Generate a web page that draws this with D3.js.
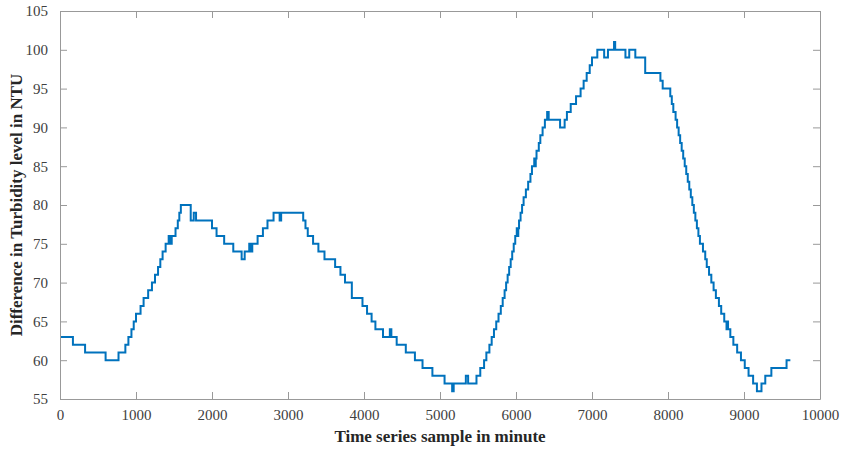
<!DOCTYPE html>
<html>
<head>
  <meta charset="utf-8">
  <title>Turbidity difference</title>
  <style>
    body { margin: 0; background: #fff; }
    .tick text { font: 15px "Liberation Serif", "Times New Roman", serif; fill: #404040; }
    .tick line { stroke: #999; }
    .domain { stroke: #999; }
    .label { font: bold 17px "Liberation Serif", "Times New Roman", serif; fill: #262626; }
    .line { fill: none; stroke: #0072BD; stroke-width: 2px; }
  </style>
  <script src="https://d3js.org/d3.v7.min.js"></script>
</head>
<body>
  <script>
    // step breakpoints: sample (minute) where the level changes, and the new level
    var samples = [
      0, 170, 330, 600, 770, 860, 900, 940, 970, 1000, 1060, 1100, 1160, 1210, 1250, 1290, 1320, 1350, 1390,
      1430, 1450, 1470, 1520, 1550, 1570, 1590, 1720, 1760, 1790, 2000, 2060, 2160, 2280, 2390, 2430, 2490,
      2510, 2530, 2600, 2670, 2730, 2810, 2890, 2910, 3200, 3230, 3260, 3330, 3400, 3480, 3620, 3690, 3750,
      3840, 3980, 4040, 4100, 4150, 4250, 4340, 4360, 4430, 4550, 4670, 4770, 4900, 5060, 5160, 5180, 5340,
      5370, 5480, 5530, 5580, 5610, 5650, 5680, 5710, 5740, 5770, 5800, 5825, 5850, 5870, 5890, 5910, 5930,
      5950, 5970, 5990, 6010, 6020, 6030, 6040, 6060, 6080, 6100, 6130, 6160, 6190, 6210, 6240, 6250, 6260,
      6270, 6300, 6320, 6350, 6380, 6410, 6430, 6580, 6640, 6670, 6720, 6790, 6850, 6890, 6930, 6970, 7000,
      7070, 7160, 7210, 7290, 7305, 7440, 7490, 7570, 7700, 7900, 7930, 8030, 8050, 8070, 8100, 8120, 8140,
      8160, 8180, 8200, 8220, 8240, 8260, 8280, 8300, 8320, 8340, 8360, 8380, 8400, 8420, 8460, 8490, 8510,
      8540, 8570, 8600, 8630, 8670, 8700, 8740, 8770, 8780, 8790, 8820, 8860, 8910, 8960, 9010, 9060, 9120,
      9170, 9230, 9280, 9360, 9560, 9610
    ];
    var levels = [
      63, 62, 61, 60, 61, 62, 63, 64, 65, 66, 67, 68, 69, 70, 71, 72, 73, 74, 75,
      76, 75, 76, 77, 78, 79, 80, 78, 79, 78, 77, 76, 75, 74, 73, 74, 75,
      74, 75, 76, 77, 78, 79, 78, 79, 78, 77, 76, 75, 74, 73, 72, 71, 70,
      68, 67, 66, 65, 64, 63, 64, 63, 62, 61, 60, 59, 58, 57, 56, 57, 58,
      57, 58, 59, 60, 61, 62, 63, 64, 65, 66, 67, 68, 69, 70, 71, 72, 73,
      74, 75, 76, 77, 76, 77, 78, 79, 80, 81, 82, 83, 84, 85, 86, 85, 86,
      87, 88, 89, 90, 91, 92, 91, 90, 91, 92, 93, 94, 95, 96, 97, 98, 99,
      100, 99, 100, 101, 100, 99, 100, 99, 97, 96, 95, 94, 93, 92, 91, 90, 89,
      88, 87, 86, 85, 84, 83, 82, 81, 80, 79, 78, 77, 76, 75, 74, 73, 72,
      71, 70, 69, 68, 67, 66, 65, 64, 65, 64, 63, 62, 61, 60, 59, 58, 57,
      56, 57, 58, 59, 60, 60
    ];
    var xTicks = [0, 1000, 2000, 3000, 4000, 5000, 6000, 7000, 8000, 9000, 10000];
    var yTicks = [55, 60, 65, 70, 75, 80, 85, 90, 95, 100, 105];

    var width = 844, height = 451;
    var margin = {left: 60, right: 24, top: 11, bottom: 52};
    var w = width - margin.left - margin.right;
    var h = height - margin.top - margin.bottom;

    var svg = d3.select('body').append('svg')
      .attr('width', width)
      .attr('height', height);

    var g = svg.append('g')
      .attr('transform', 'translate(' + margin.left + ',' + margin.top + ')');

    var x = d3.scaleLinear().domain([0, 10000]).range([0, w]);
    var y = d3.scaleLinear().domain([55, 105]).range([h, 0]);

    var data = samples.map(function(s, i) { return [s, levels[i]]; });

    var line = d3.line()
      .x(d => x(d[0]))
      .y(d => y(d[1]))
      .curve(d3.curveStepAfter);

    g.append('path')
      .datum(data)
      .attr('class', 'line')
      .attr('d', line);

    // axes with inward ticks (box on)
    g.append('g')
      .attr('transform', 'translate(0,' + h + ')')
      .call(d3.axisBottom(x).tickValues(xTicks).tickSize(-7).tickSizeOuter(0).tickPadding(10).tickFormat(d3.format('d')));
    g.append('g')
      .call(d3.axisTop(x).tickValues(xTicks).tickSize(-7).tickSizeOuter(0).tickFormat(''));
    g.append('g')
      .call(d3.axisLeft(y).tickValues(yTicks).tickSize(-7).tickSizeOuter(0).tickPadding(12));
    g.append('g')
      .attr('transform', 'translate(' + w + ',0)')
      .call(d3.axisRight(y).tickValues(yTicks).tickSize(-7).tickSizeOuter(0).tickFormat(''));

    svg.append('text')
      .attr('class', 'label')
      .attr('x', margin.left + w / 2)
      .attr('y', 442)
      .attr('text-anchor', 'middle')
      .text('Time series sample in minute');

    svg.append('text')
      .attr('class', 'label')
      .attr('transform', 'translate(22,' + (margin.top + h / 2) + ') rotate(-90)')
      .attr('text-anchor', 'middle')
      .text('Difference in Turbidity level in NTU');
  </script>
</body>
</html>
